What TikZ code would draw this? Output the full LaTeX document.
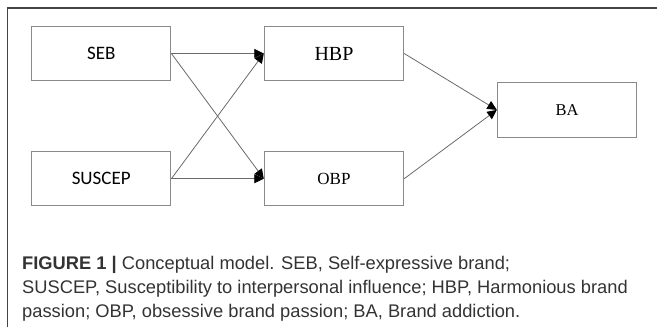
\documentclass[tikz,border=0pt]{standalone}
\usepackage{fontspec}
\setmainfont{Liberation Serif}
\newfontfamily\calib{Carlito}
\newfontfamily\capfont{Liberation Sans}
\usetikzlibrary{arrows.meta}
\definecolor{frameline}{HTML}{444444}
\definecolor{boxline}{HTML}{8A8A8A}
\definecolor{linkline}{HTML}{6A6A6A}
\definecolor{captext}{HTML}{333333}
\begin{document}
\begin{tikzpicture}[x=1bp,y=-1bp,
  varbox/.style={draw=boxline,line width=1bp,minimum width=139.4bp,minimum height=53.6bp,inner sep=0pt},
  link/.style={draw=linkline,line width=0.8bp,-{Triangle[length=9.5bp,width=9bp,color=black,fill=black]}}]
\useasboundingbox (0,0) rectangle (657,327);
% outer frame (top and left edges)
\draw[frameline,line width=1.3bp] (7.5,327) -- (7.5,8) -- (657,8);
% variables
\node[varbox,font=\calib\fontsize{19bp}{22bp}\selectfont] (seb) at (101.2,53.5) {SEB};
\node[varbox,font=\calib\fontsize{19bp}{22bp}\selectfont] (suscep) at (101.2,178.7) {SUSCEP};
\node[varbox,font=\fontsize{20bp}{23bp}\selectfont] (hbp) at (334,53.5) {HBP};
\node[varbox,font=\fontsize{17bp}{20bp}\selectfont] (obp) at (334,178.7) {OBP};
\node[varbox,minimum height=54.3bp,font=\fontsize{16.5bp}{19bp}\selectfont] (ba) at (567,109.9) {BA};
% paths
\draw[link] (seb.east) -- (hbp.west);
\draw[link] (seb.east) -- (obp.west);
\draw[link] (suscep.east) -- (hbp.west);
\draw[link] (suscep.east) -- (obp.west);
\draw[link] (hbp.east) -- (ba.west);
\draw[link] (obp.east) -- (ba.west);
% caption
\node[anchor=north west,inner sep=0pt,align=left,text=captext,
  font=\capfont\fontsize{18.3bp}{23.8bp}\selectfont] (cap) at (22,256.5)
  {\textbf{FIGURE 1 |} Conceptual model. SEB, Self-expressive brand;\\
   SUSCEP, Susceptibility to interpersonal influence; HBP, Harmonious brand\\
   passion; OBP, obsessive brand passion; BA, Brand addiction.};
\end{tikzpicture}
\end{document}
